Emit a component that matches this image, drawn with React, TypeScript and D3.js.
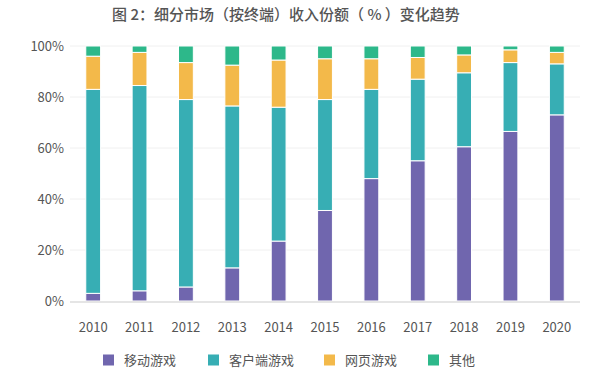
import { useEffect, useRef } from 'react';
import * as d3 from 'd3';

const years = ['2010', '2011', '2012', '2013', '2014', '2015', '2016', '2017', '2018', '2019', '2020'];
const mobile = [3, 4, 5.5, 13, 23.5, 35.5, 48, 55, 60.5, 66.5, 73];
const client = [80, 80.5, 73.5, 63.5, 52.5, 43.5, 35, 32, 29, 27, 20];
const web = [13, 13, 14.5, 16, 18.5, 16, 12, 8.5, 7, 5, 4.5];
const other = [4, 2.5, 6.5, 7.5, 5.5, 5, 5, 4.5, 3.5, 1.5, 2.5];
const yTicks = [0, 20, 40, 60, 80, 100];

const SERIES = [
  { key: 'mobile', label: '移动游戏', color: '#7066ae', values: mobile },
  { key: 'client', label: '客户端游戏', color: '#37aeb4', values: client },
  { key: 'web', label: '网页游戏', color: '#f3b94a', values: web },
  { key: 'other', label: '其他', color: '#2db88a', values: other },
];

const FONT = '"Noto Sans CJK SC", "Noto Sans", sans-serif';

export default function App() {
  const svgRef = useRef<SVGSVGElement>(null);
  const width = 600;
  const height = 370;

  useEffect(() => {
    if (!svgRef.current) return;
    const svg = d3.select(svgRef.current);
    svg.selectAll('*').remove();

    const margin = { top: 46, right: 20, bottom: 69, left: 70 };
    const innerWidth = width - margin.left - margin.right;
    const innerHeight = height - margin.top - margin.bottom;

    const rows = years.map((y, i) => {
      const r: any = { year: y };
      SERIES.forEach((s) => (r[s.key] = s.values[i]));
      return r;
    });
    const stacked = d3.stack<any>().keys(SERIES.map((s) => s.key))(rows);

    const x = d3.scaleBand().domain(years).range([0, innerWidth]).paddingInner(0.68).paddingOuter(0.34);
    const y = d3.scaleLinear().domain([0, 100]).range([innerHeight, 0]);

    svg
      .append('text')
      .attr('x', 286)
      .attr('y', 15)
      .attr('dy', '0.35em')
      .attr('text-anchor', 'middle')
      .style('font-family', FONT)
      .style('font-size', '15px')
      .style('font-weight', 500)
      .style('fill', '#555')
      .text('图 2：细分市场（按终端）收入份额（ % ）变化趋势');

    const g = svg.append('g').attr('transform', `translate(${margin.left},${margin.top})`);

    g.selectAll('.grid')
      .data(yTicks.slice(1))
      .enter()
      .append('line')
      .attr('x1', 0)
      .attr('x2', innerWidth)
      .attr('y1', (d) => y(d))
      .attr('y2', (d) => y(d))
      .attr('stroke', '#f0f0f0')
      .attr('stroke-width', 1);

    g.selectAll('.ytick')
      .data(yTicks)
      .enter()
      .append('text')
      .attr('x', -6)
      .attr('y', (d) => y(d))
      .attr('dy', '0.35em')
      .attr('text-anchor', 'end')
      .style('font-family', FONT)
      .style('font-size', '13px')
      .style('fill', '#555')
      .text((d) => `${d}%`);

    stacked.forEach((layer, idx) => {
      g.selectAll(`.bar-${idx}`)
        .data(layer)
        .enter()
        .append('rect')
        .attr('x', (d: any) => x(d.data.year)!)
        .attr('width', x.bandwidth())
        .attr('y', (d) => y(d[1]))
        .attr('height', (d) => y(d[0]) - y(d[1]))
        .attr('fill', SERIES[idx].color)
        .attr('stroke', '#fff')
        .attr('stroke-width', 1);
    });

    g.append('line')
      .attr('x1', 0)
      .attr('x2', innerWidth)
      .attr('y1', innerHeight + 1)
      .attr('y2', innerHeight + 1)
      .attr('stroke', '#ddd')
      .attr('stroke-width', 1.5);

    g.selectAll('.xtick')
      .data(years)
      .enter()
      .append('text')
      .attr('x', (d) => x(d)! + x.bandwidth() / 2)
      .attr('y', innerHeight + 26)
      .attr('dy', '0.35em')
      .attr('text-anchor', 'middle')
      .style('font-family', FONT)
      .style('font-size', '13px')
      .style('fill', '#555')
      .text((d) => d);

    const legendX = [103, 208, 324, 428];
    const legend = svg
      .append('g')
      .selectAll('g')
      .data(SERIES)
      .enter()
      .append('g')
      .attr('transform', (_, i) => `translate(${legendX[i]},360)`);
    legend
      .append('rect')
      .attr('x', 0)
      .attr('y', -5.5)
      .attr('width', 11)
      .attr('height', 11)
      .attr('fill', (d) => d.color);
    legend
      .append('text')
      .attr('x', 21)
      .attr('y', 0)
      .attr('dy', '0.35em')
      .style('font-family', FONT)
      .style('font-size', '13px')
      .style('fill', '#555')
      .text((d) => d.label);
  }, []);

  return (
    <div style={{ position: 'absolute', left: 0, top: 0, background: '#fff' }}>
      <svg ref={svgRef} width={width} height={height}></svg>
    </div>
  );
}
